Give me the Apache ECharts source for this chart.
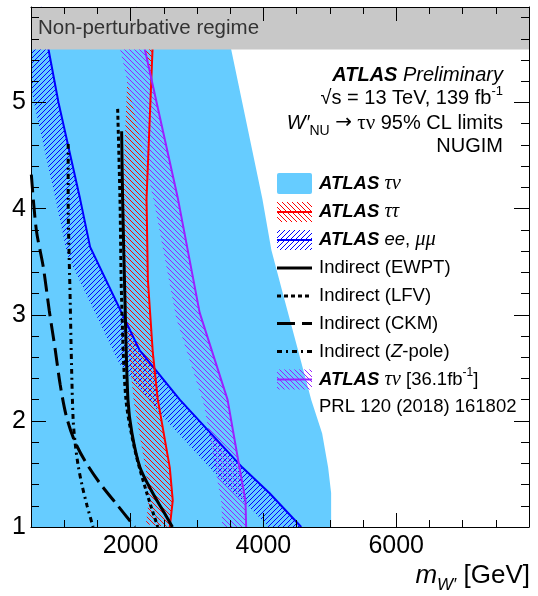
<!DOCTYPE html>
<html>
<head>
<meta charset="utf-8">
<script src="https://cdn.jsdelivr.net/npm/echarts@6/dist/echarts.min.js"></script>
<style>
  html, body { margin: 0; padding: 0; background: #fff; }
  #chart { width: 538px; height: 596px; }
</style>
</head>
<body>
<div id="chart"></div>
<script>
// ---- Axis ranges and tick labels ----
const xRange = [500, 8000];          // m_W' [GeV]
const yRange = [1, 5.9];             // coupling
const xMajorTicks = [2000, 4000, 6000];
const yMajorTicks = [1, 2, 3, 4, 5];
const nonPertBand = [5.5, 5.9];

// ---- ATLAS tau-nu (139 fb-1): excluded region lies left of this boundary ----
const tauNuMass     = [3381, 3515, 3985, 4120, 4319, 4520, 4720, 4885, 4975, 5020, 5020];
const tauNuCoupling = [5.9,  5.5,  4.09, 3.61, 3.14, 2.67, 2.2,  1.88, 1.56, 1.32, 1.0];

// ---- ATLAS tau-tau limit ----
const tauTauMass     = [2342, 2330, 2240, 2260, 2335, 2410, 2590, 2635, 2590];
const tauTauCoupling = [5.9,  5.5,  4.09, 3.33, 2.64, 2.2,  1.56, 1.25, 1.0];

// ---- ATLAS ee, mumu limit ----
const llMass     = [643, 764, 914, 1240, 1390, 2132, 2740, 3685, 4090, 4570];
const llCoupling = [5.9, 5.5, 5.0, 4.09, 3.64, 2.67, 2.2,  1.56, 1.32, 1.0];

// ---- ATLAS tau-nu 36.1 fb-1 (PRL 120 (2018) 161802) ----
const tauNu36Mass     = [2074, 2215, 2714, 3040, 3460, 3640, 3730, 3740];
const tauNu36Coupling = [5.9,  5.5,  4.09, 3.02, 2.2,  1.56, 1.25, 1.0];

// ---- Indirect constraints ----
const ewptMass     = [1865, 1880, 1915, 1960, 2020, 2140, 2335, 2485, 2630];
const ewptCoupling = [4.73, 4.09, 3.14, 2.2,  1.885, 1.564, 1.318, 1.157, 1.0];

const lfvMass     = [1805, 1840, 1865, 1930, 2065, 2245, 2410];
const lfvCoupling = [4.94, 4.09, 3.14, 2.2,  1.725, 1.318, 1.0];

const ckmMass     = [505,  580,  685,  775,  865,  940,  1030, 1150, 1315, 1540, 1795, 2065];
const ckmCoupling = [4.32, 3.80, 3.45, 3.04, 2.67, 2.34, 2.05, 1.82, 1.62, 1.41, 1.21, 1.0];

const zpoleMass     = [1060, 1060, 1090, 1112, 1135, 1165, 1210, 1270, 1345, 1435];
const zpoleCoupling = [4.61, 4.09, 3.14, 2.48, 2.01, 1.79, 1.58, 1.39, 1.2,  1.0];

// ---- styling ----
const SANS = 'Liberation Sans, Arial, Helvetica, sans-serif';
const SERIF = 'Liberation Serif, Times New Roman, serif';
const FILL_BLUE = '#66ccff';
const RED = '#ff0000';
const BLUE = '#0000ff';
const VIOLET = '#9922ff';
const HATCH_WIDTH = 24;

function pairs(xs, ys) { return xs.map((x, i) => [x, ys[i]]); }

// Diagonal hatch tile used as a repeating fill pattern
function hatchPattern(color, forward) {
  const s = 5;
  const c = document.createElement('canvas');
  c.width = s; c.height = s;
  const g = c.getContext('2d');
  g.strokeStyle = color;
  g.lineWidth = 1;
  g.beginPath();
  if (forward) {           // '/'
    g.moveTo(-1, s + 1); g.lineTo(s + 1, -1);
    g.moveTo(-1, 1); g.lineTo(1, -1);
    g.moveTo(s - 1, s + 1); g.lineTo(s + 1, s - 1);
  } else {                 // '\'
    g.moveTo(-1, -1); g.lineTo(s + 1, s + 1);
    g.moveTo(s - 1, -1); g.lineTo(s + 1, 1);
    g.moveTo(-1, s - 1); g.lineTo(1, s + 1);
  }
  g.stroke();
  return { image: c, repeat: 'repeat' };
}

// Clip a polygon (pixel coords) against a rectangle
function clipPolygon(pts, r) {
  const x0 = r.x, x1 = r.x + r.width, y0 = r.y, y1 = r.y + r.height;
  const planes = [
    [p => p[0] >= x0, (a, b) => [x0, a[1] + (x0 - a[0]) / (b[0] - a[0]) * (b[1] - a[1])]],
    [p => p[0] <= x1, (a, b) => [x1, a[1] + (x1 - a[0]) / (b[0] - a[0]) * (b[1] - a[1])]],
    [p => p[1] >= y0, (a, b) => [a[0] + (y0 - a[1]) / (b[1] - a[1]) * (b[0] - a[0]), y0]],
    [p => p[1] <= y1, (a, b) => [a[0] + (y1 - a[1]) / (b[1] - a[1]) * (b[0] - a[0]), y1]]
  ];
  let out = pts;
  for (const [inside, cut] of planes) {
    const inp = out; out = [];
    for (let i = 0; i < inp.length; i++) {
      const cur = inp[i], prev = inp[(i + inp.length - 1) % inp.length];
      const ci = inside(cur), pi = inside(prev);
      if (ci) { if (!pi) out.push(cut(prev, cur)); out.push(cur); }
      else if (pi) out.push(cut(prev, cur));
    }
  }
  return out;
}

// Offset a polyline (pixel coords) to its left-hand side by w pixels
function offsetLeft(px, w) {
  const n = px.length, res = [];
  const segN = [];
  for (let i = 0; i < n - 1; i++) {
    const dx = px[i + 1][0] - px[i][0], dy = px[i + 1][1] - px[i][1];
    const L = Math.hypot(dx, dy) || 1;
    segN.push([-dy / L, dx / L]);
  }
  for (let i = 0; i < n; i++) {
    const a = segN[Math.max(0, i - 1)], b = segN[Math.min(n - 2, i)];
    let nx = a[0] + b[0], ny = a[1] + b[1];
    const L = Math.hypot(nx, ny) || 1;
    nx /= L; ny /= L;
    const k = Math.min(2, 1 / Math.max(0.5, nx * b[0] + ny * b[1]));
    res.push([px[i][0] + w * k * nx, px[i][1] + w * k * ny]);
  }
  return res;
}

// Hatched band on one side of a limit curve
function hatchSeries(name, xs, ys, pattern) {
  return {
    name, type: 'custom', z: 2,
    coordinateSystem: 'cartesian2d',
    data: [[xs[0], ys[0]]],
    renderItem(params, api) {
      const line = xs.map((x, i) => api.coord([x, ys[i]]));
      const off = offsetLeft(line, HATCH_WIDTH);
      const poly = clipPolygon(line.concat(off.slice().reverse()), params.coordSys);
      return { type: 'polygon', shape: { points: poly }, style: { fill: pattern, stroke: null } };
    }
  };
}

function limitLine(name, xs, ys, color, width, dash, smooth) {
  return {
    name, type: 'line', z: 3,
    data: pairs(xs, ys),
    showSymbol: false, symbol: 'none',
    smooth: smooth || false,
    clip: true,
    lineStyle: { color, width, type: dash || 'solid', cap: 'butt' }
  };
}

const patRed = hatchPattern(RED, false);
const patBlue = hatchPattern(BLUE, true);
const patViolet = hatchPattern(VIOLET, false);

// ---- axes: majors carry labels, minors are separate overlaid axes ----
function range(a, b, step, skip) {
  const out = [];
  for (let v = a; v <= b + 1e-9; v += step) {
    const r = Math.round(v * 100) / 100;
    if (!skip.includes(r)) out.push(r);
  }
  return out;
}
const xMinorTicks = range(500, 8000, 500, xMajorTicks);
const yMinorTicks = range(1.2, 5.8, 0.2, yMajorTicks);

function xAx(pos, ticks, len, labels, line) {
  return {
    type: 'value', position: pos, min: xRange[0], max: xRange[1], z: 10,
    axisLine: { show: line, onZero: false, lineStyle: { color: '#000', width: 1 } },
    axisTick: { show: true, inside: true, length: len, customValues: ticks, lineStyle: { color: '#000', width: 1 } },
    axisLabel: labels ? { show: true, customValues: ticks, formatter: v => String(v), color: '#000', fontSize: 25, fontFamily: SANS, margin: 7 } : { show: false },
    splitLine: { show: false }, minorTick: { show: false }
  };
}
function yAx(pos, ticks, len, labels, line) {
  return {
    type: 'value', position: pos, min: yRange[0], max: yRange[1], z: 10,
    axisLine: { show: line, onZero: false, lineStyle: { color: '#000', width: 1 } },
    axisTick: { show: true, inside: true, length: len, customValues: ticks, lineStyle: { color: '#000', width: 1 } },
    axisLabel: labels ? { show: true, customValues: ticks, formatter: v => String(v), color: '#000', fontSize: 25, fontFamily: SANS, margin: 5 } : { show: false },
    splitLine: { show: false }, minorTick: { show: false }
  };
}

// ---- header and legend ----
const headerX = 503;
const legendSymX = 277, legendSymW = 35, legendTextX = 319;
const LFS = 18.5;
const richLegend = {
  b: { fontFamily: SANS, fontWeight: 'bold', fontStyle: 'italic', fontSize: LFS, color: '#000' },
  g: { fontFamily: SERIF, fontStyle: 'italic', fontSize: LFS + 2, color: '#000' },
  n: { fontFamily: SANS, fontSize: LFS, color: '#000' },
  sup: { fontFamily: SANS, fontSize: 12, color: '#000', verticalAlign: 'top', lineHeight: 26 },
  zi: { fontFamily: SANS, fontStyle: 'italic', fontSize: LFS, color: '#000' }
};

const legendItems = [
  { y: 184,   kind: 'fill',  text: '{b|ATLAS }{g|τν}' },
  { y: 212,   kind: 'hatch', pat: patRed, color: RED, text: '{b|ATLAS }{g|ττ}' },
  { y: 240,   kind: 'hatch', pat: patBlue, color: BLUE, text: '{b|ATLAS }{zi|ee}{n|, }{g|μμ}' },
  { y: 268,   kind: 'line',  dash: 'solid', text: '{n|Indirect (EWPT)}' },
  { y: 296,   kind: 'line',  dash: [4, 3], text: '{n|Indirect (LFV)}' },
  { y: 323.5, kind: 'line',  dash: [18, 7], text: '{n|Indirect (CKM)}' },
  { y: 351.5, kind: 'line',  dash: [5, 4, 2, 4], text: '{n|Indirect (}{zi|Z}{n|-pole)}' },
  { y: 379.5, kind: 'hatch', pat: patViolet, color: VIOLET, text: '{b|ATLAS }{g|τν }{n|[36.1fb}{sup|-1}{n|]}' },
  { y: 407,   kind: 'none',  text: '{n|PRL 120 (2018) 161802}' }
];

const graphics = [];
legendItems.forEach(it => {
  if (it.kind === 'fill') {
    graphics.push({ type: 'rect', z: 20, shape: { x: legendSymX, y: it.y - 11, width: legendSymW, height: 21, r: 2 }, style: { fill: FILL_BLUE } });
  } else if (it.kind === 'hatch') {
    graphics.push({ type: 'rect', z: 20, shape: { x: legendSymX, y: it.y - 10, width: legendSymW, height: 20 }, style: { fill: it.pat } });
    graphics.push({ type: 'line', z: 21, shape: { x1: legendSymX, y1: it.y, x2: legendSymX + legendSymW, y2: it.y }, style: { stroke: it.color, lineWidth: 2 } });
  } else if (it.kind === 'line') {
    graphics.push({ type: 'line', z: 21, shape: { x1: legendSymX, y1: it.y, x2: legendSymX + legendSymW, y2: it.y },
      style: { stroke: '#000', lineWidth: 3, lineDash: it.dash === 'solid' ? null : it.dash } });
  }
  graphics.push({ type: 'text', z: 22, x: legendTextX, y: it.y,
    style: { text: it.text, rich: richLegend, verticalAlign: 'middle', align: 'left', fontFamily: SANS, fontSize: LFS } });
});

const richHeader = {
  b: { fontFamily: SANS, fontWeight: 'bold', fontStyle: 'italic', fontSize: 20, color: '#000' },
  i: { fontFamily: SANS, fontStyle: 'italic', fontSize: 20, color: '#000' },
  n: { fontFamily: SANS, fontSize: 20, color: '#000' },
  arr: { fontFamily: 'DejaVu Sans, sans-serif', fontSize: 20, color: '#000' },
  g: { fontFamily: SERIF, fontSize: 21, color: '#000' },
  sup: { fontFamily: SANS, fontSize: 13, color: '#000', verticalAlign: 'top', lineHeight: 28 },
  sub: { fontFamily: SANS, fontSize: 14, color: '#000', verticalAlign: 'bottom', lineHeight: 30 }
};
[
  { y: 75,    text: '{b|ATLAS }{i|Preliminary}' },
  { y: 98.5,  text: '{n|√s = 13 TeV, 139 fb}{sup|-1}' },
  { y: 123,   text: '{i|W′}{sub|NU}{n| }{arr|→}{g| τν}{n| 95% CL limits}' },
  { y: 146.5, text: '{n|NUGIM}' }
].forEach(h => graphics.push({ type: 'text', z: 22, x: headerX, y: h.y,
  style: { text: h.text, rich: richHeader, align: 'right', verticalAlign: 'middle' } }));

// x-axis title
graphics.push({ type: 'text', z: 22, x: 530, y: 576,
  style: {
    text: '{m|m}{sub|W′}{n| [GeV]}', align: 'right', verticalAlign: 'middle',
    rich: {
      m: { fontFamily: SANS, fontStyle: 'italic', fontSize: 26, color: '#000' },
      sub: { fontFamily: SANS, fontStyle: 'italic', fontSize: 17, color: '#000', verticalAlign: 'bottom', lineHeight: 36 },
      n: { fontFamily: SANS, fontSize: 26, color: '#000' }
    }
  } });

const option = {
  animation: false,
  backgroundColor: '#fff',
  grid: { left: 31, top: 7, width: 498, height: 520, containLabel: false },
  xAxis: [
    xAx('bottom', xMajorTicks, 14, true, true),
    xAx('bottom', xMinorTicks, 7, false, false),
    xAx('top', xMajorTicks, 14, false, true),
    xAx('top', xMinorTicks, 7, false, false)
  ],
  yAxis: [
    yAx('left', yMajorTicks, 15, true, true),
    yAx('left', yMinorTicks, 8, false, false),
    yAx('right', yMajorTicks, 15, false, true),
    yAx('right', yMinorTicks, 8, false, false)
  ],
  series: [
    {
      name: 'ATLAS τν', type: 'custom', z: 1,
      coordinateSystem: 'cartesian2d',
      data: [[tauNuMass[0], tauNuCoupling[0]]],
      renderItem(params, api) {
        const last = tauNuCoupling.length - 1;
        const pts = [[xRange[0], tauNuCoupling[0]]]
          .concat(pairs(tauNuMass, tauNuCoupling))
          .concat([[xRange[0], tauNuCoupling[last]]])
          .map(p => api.coord(p));
        return { type: 'polygon', shape: { points: clipPolygon(pts, params.coordSys), smooth: 0 }, style: { fill: FILL_BLUE } };
      }
    },
    hatchSeries('ATLAS ee,μμ hatch', llMass, llCoupling, patBlue),
    hatchSeries('ATLAS ττ hatch', tauTauMass, tauTauCoupling, patRed),
    hatchSeries('ATLAS τν 36.1 hatch', tauNu36Mass, tauNu36Coupling, patViolet),
    limitLine('ATLAS ee,μμ', llMass, llCoupling, BLUE, 2),
    limitLine('ATLAS ττ', tauTauMass, tauTauCoupling, RED, 2),
    limitLine('ATLAS τν [36.1fb-1]', tauNu36Mass, tauNu36Coupling, VIOLET, 2),
    limitLine('Indirect (EWPT)', ewptMass, ewptCoupling, '#000', 3, 'solid', 0.3),
    limitLine('Indirect (LFV)', lfvMass, lfvCoupling, '#000', 3, [4, 3], 0.3),
    limitLine('Indirect (CKM)', ckmMass, ckmCoupling, '#000', 3, [18, 7], 0.3),
    limitLine('Indirect (Z-pole)', zpoleMass, zpoleCoupling, '#000', 3, [5, 4, 2, 4], 0.3),
    {
      name: 'Non-perturbative regime', type: 'custom', z: 5,
      coordinateSystem: 'cartesian2d',
      data: [[xRange[0], nonPertBand[0]]],
      renderItem(params, api) {
        const a = api.coord([xRange[0], nonPertBand[1]]);
        const b = api.coord([xRange[1], nonPertBand[0]]);
        return {
          type: 'group',
          children: [
            { type: 'rect', shape: { x: a[0], y: a[1], width: b[0] - a[0], height: b[1] - a[1] }, style: { fill: '#c8c8c8' } },
            { type: 'text', x: a[0] + 7, y: (a[1] + b[1]) / 2 + 0.5,
              style: { text: 'Non-perturbative regime', fill: '#333', fontFamily: SANS, fontSize: 20.5, verticalAlign: 'middle', align: 'left' } }
          ]
        };
      }
    }
  ],
  graphic: { elements: graphics }
};

const chart = echarts.init(document.getElementById('chart'), null, { renderer: 'canvas' });
chart.setOption(option);
</script>
</body>
</html>
